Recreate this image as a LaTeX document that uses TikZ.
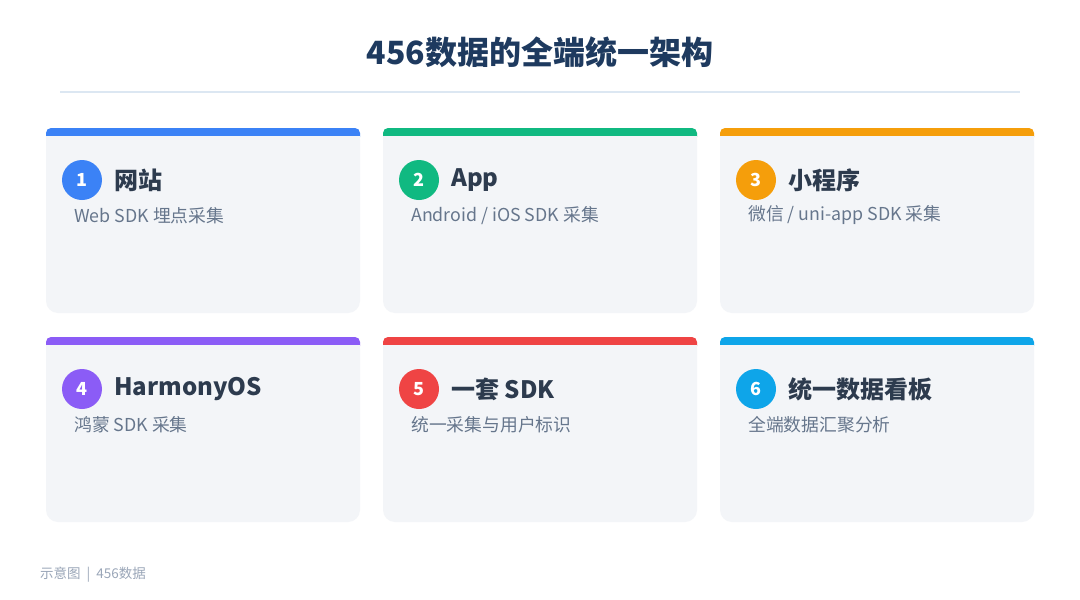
\documentclass[tikz,border=0pt]{standalone}
\usepackage{fontspec}
\setmainfont{Noto Sans CJK SC}
\definecolor{titlecol}{HTML}{1E3A5F}
\definecolor{rulecol}{HTML}{DCE7F2}
\definecolor{cardbg}{HTML}{F3F5F8}
\definecolor{headcol}{HTML}{2D3B4E}
\definecolor{subcol}{HTML}{66768C}
\definecolor{footcol}{HTML}{9AA6B8}
\definecolor{cblue}{HTML}{3B82F6}
\definecolor{cgreen}{HTML}{10B981}
\definecolor{camber}{HTML}{F59E0B}
\definecolor{cpurple}{HTML}{8B5CF6}
\definecolor{cred}{HTML}{EF4444}
\definecolor{csky}{HTML}{0EA5E9}
\begin{document}
\begin{tikzpicture}[x=1pt,y=-1pt]
    \tikzset{
      pics/card/.style args={#1,#2,#3,#4}{code={
        \fill[cardbg,rounded corners=12pt] (0,0) rectangle (314,185);
        \fill[#1,rounded corners=5pt] (0,0) rectangle (314,14);
        \fill[cardbg] (0,8) rectangle (314,40);
        \node[circle,fill=#1,minimum size=40pt,inner sep=0pt,text=white,
          font=\fontsize{18}{20}\selectfont\bfseries] (-num) at (36,52) {#2};
        \node[anchor=west,inner sep=0pt,text=headcol,
          font=\fontsize{24}{28}\selectfont\bfseries] (-head) at (68,52) {#3};
        \node[anchor=west,inner sep=0pt,text=subcol,
          font=\fontsize{17.8}{20}\selectfont] (-sub) at (28,87.5) {#4};
      },
    }
    }
    \useasboundingbox[fill=white] (0,0) rectangle (1080,600);

        %TITLE
        \node[text=titlecol,font=\fontsize{32}{38}\selectfont\bfseries] (title) at (540,52) {456数据的全端统一架构};
        \coordinate (ruleL) at (60,92);
        \coordinate (ruleR) at (1020,92);
        \draw[rulecol,line width=2pt] (ruleL) -- (ruleR);

        %CARDS ROW 1
        \pic (c1) at (46,128) {card={cblue,1,网站,Web SDK 埋点采集}};
        \pic (c2) at (383,128) {card={cgreen,2,App,Android / iOS SDK 采集}};
        \pic (c3) at (720,128) {card={camber,3,小程序,微信 / uni-app SDK 采集}};
        %CARDS ROW 2
        \pic (c4) at (46,337) {card={cpurple,4,HarmonyOS,鸿蒙 SDK 采集}};
        \pic (c5) at (383,337) {card={cred,5,一套 SDK,统一采集与用户标识}};
        \pic (c6) at (720,337) {card={csky,6,统一数据看板,全端数据汇聚分析}};

    \node[anchor=west,inner sep=0pt,text=footcol,font=\fontsize{13.5}{16}\selectfont] (foot) at (40,575) {示意图\kern6pt|\kern6pt456数据};
    \end{tikzpicture}
\end{document}
